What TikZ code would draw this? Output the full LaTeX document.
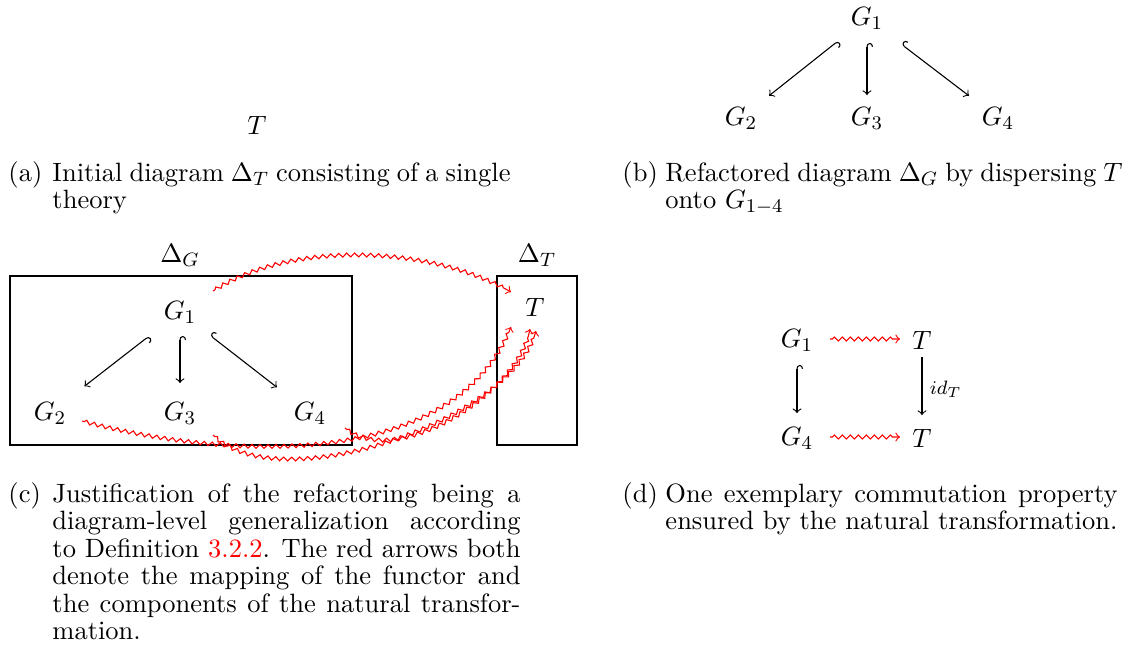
\documentclass[tikz,border=0pt]{standalone}
\usetikzlibrary{arrows.meta,decorations.pathmorphing,calc}
\begin{document}
\fontsize{10.95}{11.4}\selectfont
\begin{tikzpicture}[x=0.4132pt,y=0.4132pt,
  every node/.style={inner sep=0pt},
  obj/.style={anchor=center},
  inc/.style={line width=0.45pt, {Hooks[right,length=1.6pt,width=5pt]}-to},
  map/.style={line width=0.45pt, -to},
  sq/.style={red, line width=0.45pt, -to, decorate,
    decoration={zigzag, segment length=3.3pt, amplitude=0.8pt, pre length=1pt, post length=2.5pt}},
  frame/.style={draw, line width=0.8pt},
  lab/.style={anchor=base west},
]
\useasboundingbox (0,0) rectangle (1127,-671);

% ---------- (a)
\node[obj] (Ta) at (257,-125) {$T$};
\node[lab] (capaL) at (8,-181) {(a)};
\node[lab] (capa) at (52,-181) {\vtop{\hbox{\makebox[189.3pt][s]{Initial diagram $\Delta_T$ consisting of a single}}\hbox{theory}}};

% ---------- (b)
\node[obj] (G1b) at (867,-18) {$G_1$};
\node[obj] (G2b) at (741,-118) {$G_2$};
\node[obj] (G3b) at (867,-118) {$G_3$};
\node[obj] (G4b) at (998,-118) {$G_4$};
\draw[inc, shorten <=15.2pt, shorten >=14.8pt] (G1b.center) -- (G2b.center);
\draw[inc, shorten <=10.3pt, shorten >=9.5pt] (G1b.center) -- (G3b.center);
\draw[inc, shorten <=17.9pt, shorten >=15.1pt] (G1b.center) -- (G4b.center);
\node[lab] (capbL) at (622,-181) {(b)};
\node[lab] (capb) at (665,-181) {\vtop{\hbox{\makebox[188.9pt][s]{Refactored diagram $\Delta_G$ by dispersing $T$}}\hbox{onto $G_{1-4}$}}};

% ---------- (c)
\node[frame, minimum width=141.3pt, minimum height=69.8pt] (boxG) at (181,-360.5) {};
\node[frame, minimum width=33.1pt, minimum height=69.8pt] (boxT) at (537,-360.5) {};
\node[obj] (DG) at (180,-255) {$\Delta_G$};
\node[obj] (DT) at (537,-255) {$\Delta_T$};
\node[obj] (G1c) at (180,-312) {$G_1$};
\node[obj] (G2c) at (50,-413) {$G_2$};
\node[obj] (G3c) at (180,-413) {$G_3$};
\node[obj] (G4c) at (310,-413) {$G_4$};
\node[obj] (Tc) at (535,-307) {$T$};
\draw[inc, shorten <=16.2pt, shorten >=18pt] (G1c.center) -- (G2c.center);
\draw[inc, shorten <=9.9pt, shorten >=12.4pt] (G1c.center) -- (G3c.center);
\draw[inc, shorten <=15.7pt, shorten >=17.3pt] (G1c.center) -- (G4c.center);
\draw[sq] ($(G1c)+(33,21)$) to[out=33,in=150,looseness=0.8] ($(Tc)+(-24,15)$);
\draw[sq] ($(G2c)+(32,-8)$) to[out=-15,in=-112,looseness=0.9] ($(Tc)+(-24,-20)$);
\draw[sq] ($(G3c)+(33,-22)$) to[out=-45,in=-105,looseness=0.7] ($(Tc)+(1,-24)$);
\draw[sq] ($(G4c)+(35,-15)$) to[out=-40,in=-100,looseness=0.8] ($(Tc)+(-5,-22)$);
\node[lab] (capcL) at (8,-502) {(c)};
\node[lab] (capc) at (52,-502) {\vtop{%
  \hbox{\makebox[193.4pt][s]{Justification of the refactoring being a}}
  \hbox{\makebox[193.4pt][s]{diagram-level generalization according}}
  \hbox{\makebox[193.4pt][s]{to Definition \textcolor{red}{3.2.2}. The red arrows both}}
  \hbox{\makebox[193.4pt][s]{denote the mapping of the functor and}}
  \hbox{\makebox[193.4pt][s]{the components of the natural transfor-}}
  \hbox{mation.}}};

% ---------- (d)
\node[obj] (G1d) at (797,-340) {$G_1$};
\node[obj] (T1d) at (922,-340) {$T$};
\node[obj] (G4d) at (797,-438) {$G_4$};
\node[obj] (T4d) at (922,-438) {$T$};
\draw[sq] ($(G1d)+(33,1)$) -- ($(T1d)+(-22,1)$);
\draw[sq] ($(G4d)+(33,1)$) -- ($(T4d)+(-22,1)$);
\draw[inc, shorten <=10.3pt, shorten >=10.3pt] (G1d.center) -- (G4d.center);
\draw[map, shorten <=7pt, shorten >=9.5pt] (T1d.center) -- node[anchor=west, xshift=3pt] (idT) {$\scriptstyle id_T$} (T4d.center);
\node[lab] (capdL) at (622,-502) {(d)};
\node[lab] (capd) at (665,-502) {\vtop{\hbox{\makebox[186.8pt][s]{One exemplary commutation property}}\hbox{ensured by the natural transformation.}}};
\end{tikzpicture}
\end{document}
